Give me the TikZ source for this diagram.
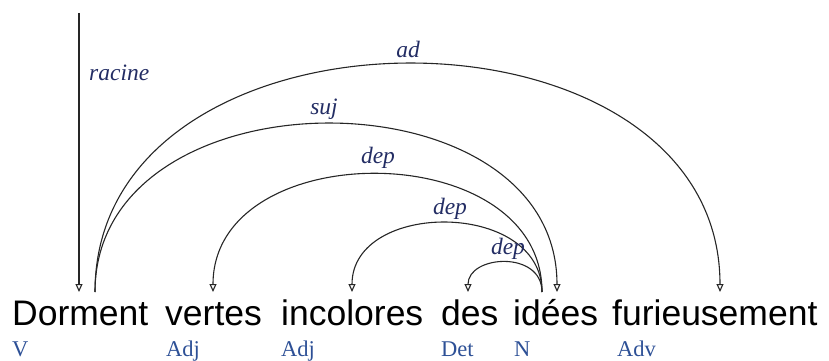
\documentclass[tikz,border=0pt]{standalone}
\usepackage{fontspec}
\setmainfont{Liberation Serif}
\newfontfamily\wordfont{Liberation Sans}
\usetikzlibrary{arrows.meta}
\definecolor{poscol}{RGB}{45,80,150}
\definecolor{relcol}{RGB}{35,45,100}
\tikzset{
  word/.style={anchor=base west, inner sep=0pt, font=\wordfont\fontsize{35.5}{40}\selectfont, text=black},
  postag/.style={anchor=base west, inner sep=0pt, font=\fontsize{22.5}{26}\selectfont, text=poscol},
  rel/.style={inner sep=0pt, font=\itshape\fontsize{23.5}{27}\selectfont, text=relcol},
  deparc/.style={line width=1.1pt, draw=black!85, -{Triangle[open,length=8pt,width=7pt]}}
}
\begin{document}
\begin{tikzpicture}[x=1pt,y=-1pt]
\useasboundingbox (0,0) rectangle (829,361);

% the sentence
\node[word] (w1) at (12,325) {Dorment};
\node[word] (w2) at (165,325) {vertes};
\node[word] (w3) at (281,325) {incolores};
\node[word] (w4) at (441,325) {des};
\node[word] (w5) at (513,325) {idées};
\node[word] (w6) at (612,325) {furieusement};

% part-of-speech tags
\node[postag] (p1) at (12,356) {V};
\node[postag] (p2) at (166,356) {Adj};
\node[postag] (p3) at (281,356) {Adj};
\node[postag] (p4) at (441,356) {Det};
\node[postag] (p5) at (514,356) {N};
\node[postag] (p6) at (617,356) {Adv};

% arc feet above the words
\coordinate (top) at (79,13);
\coordinate (rootin) at (79,292);
\coordinate (dormout) at (95,292);
\coordinate (vertin) at (213,292);
\coordinate (incolin) at (352,292);
\coordinate (desin) at (468,292);
\coordinate (ideeout) at (542,292);
\coordinate (ideein) at (557,292);
\coordinate (furin) at (720,292);

% dependency arcs
\draw[deparc] (top) -- (rootin);
\draw[deparc] (dormout) .. controls (95,-12) and (720,-12) .. (furin);
\draw[deparc] (dormout) .. controls (95,68) and (557,68) .. (ideein);
\draw[deparc] (ideeout) .. controls (542,135) and (213,135) .. (vertin);
\draw[deparc] (ideeout) .. controls (542,200) and (352,200) .. (incolin);
\draw[deparc] (ideeout) .. controls (542,250) and (468,255) .. (desin);

% relation labels
\node[rel, anchor=west] (lroot) at (89,73) {racine};
\node[rel] (lad) at (408,49) {ad};
\node[rel] (lsuj) at (324,109) {suj};
\node[rel] (ldep1) at (378,158) {dep};
\node[rel] (ldep2) at (450,209) {dep};
\node[rel] (ldep3) at (508,249) {dep};
\end{tikzpicture}
\end{document}
